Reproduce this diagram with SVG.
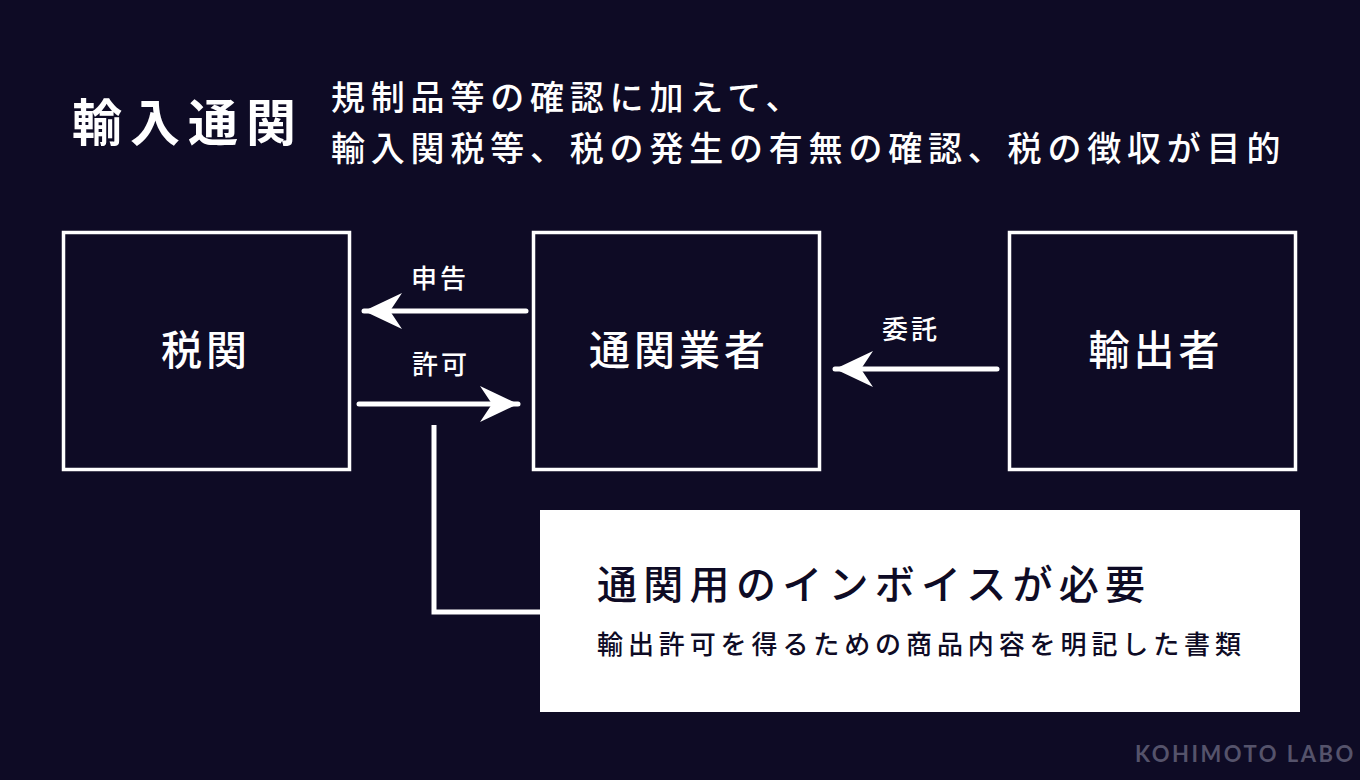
<svg xmlns="http://www.w3.org/2000/svg" width="1360" height="780" viewBox="0 0 1360 780">
<defs>
<style>
.jp{font-family:"Noto Sans CJK JP","Noto Sans",sans-serif;}
.box{fill:none;stroke:#ffffff;stroke-width:3.5;}
.node{fill:#ffffff;font-size:41px;font-weight:500;text-anchor:middle;letter-spacing:4px;}
.lbl{fill:#ffffff;font-size:26px;font-weight:500;text-anchor:middle;letter-spacing:3px;}
.ln{stroke:#ffffff;stroke-width:5;stroke-linecap:round;fill:none;}
</style>
<marker id="ah" viewBox="0 0 40 36" refX="38" refY="18" markerWidth="40" markerHeight="36" markerUnits="userSpaceOnUse" orient="auto">
<path d="M0,0 L38,18 L0,36 L12,18 Z" fill="#ffffff"/>
</marker>
</defs>
<rect width="1360" height="780" fill="#0e0b25"/>
<g id="title">
<text class="jp" x="72" y="141" fill="#ffffff" font-size="50" font-weight="700" letter-spacing="8">輸入通関</text>
<text class="jp" x="331" y="110" fill="#ffffff" font-size="34" font-weight="500" letter-spacing="5.8">規制品等の確認に加えて、</text>
<text class="jp" x="331" y="161" fill="#ffffff" font-size="34" font-weight="500" letter-spacing="5.8">輸入関税等、税の発生の有無の確認、税の徴収が目的</text>
</g>
<g id="node-zeikan">
<rect class="box" x="63.5" y="232.5" width="286" height="237"/>
<text class="jp node" x="206" y="365">税関</text>
</g>
<g id="node-tsukan">
<rect class="box" x="533.5" y="232.5" width="286" height="237"/>
<text class="jp node" x="679" y="365">通関業者</text>
</g>
<g id="node-yushutsu">
<rect class="box" x="1009.5" y="232.5" width="286" height="237"/>
<text class="jp node" x="1156" y="365">輸出者</text>
</g>
<g id="connectors">
<line class="ln" x1="526" y1="311" x2="364" y2="311" marker-end="url(#ah)"/>
<line class="ln" x1="359" y1="404" x2="518" y2="404" marker-end="url(#ah)"/>
<line class="ln" x1="997" y1="369" x2="835" y2="369" marker-end="url(#ah)"/>
<polyline points="434,425 434,612 541,612" fill="none" stroke="#ffffff" stroke-width="5"/>
<text class="jp lbl" x="440" y="288">申告</text>
<text class="jp lbl" x="441" y="374">許可</text>
<text class="jp lbl" x="911" y="339">委託</text>
</g>
<g id="node-invoice">
<rect x="540" y="510" width="760" height="202" fill="#ffffff"/>
<text class="jp" x="597" y="599" fill="#0e0b25" font-size="40" font-weight="500" letter-spacing="6.3">通関用のインボイスが必要</text>
<text class="jp" x="597" y="654" fill="#0e0b25" font-size="26" font-weight="500" letter-spacing="4.9">輸出許可を得るための商品内容を明記した書類</text>
</g>
<g id="credit">
<text x="1135" y="762" fill="#55536b" font-family="Lato,'Noto Sans',sans-serif" font-size="22" font-weight="700" letter-spacing="2.5">KOHIMOTO LABO</text>
</g>
</svg>
